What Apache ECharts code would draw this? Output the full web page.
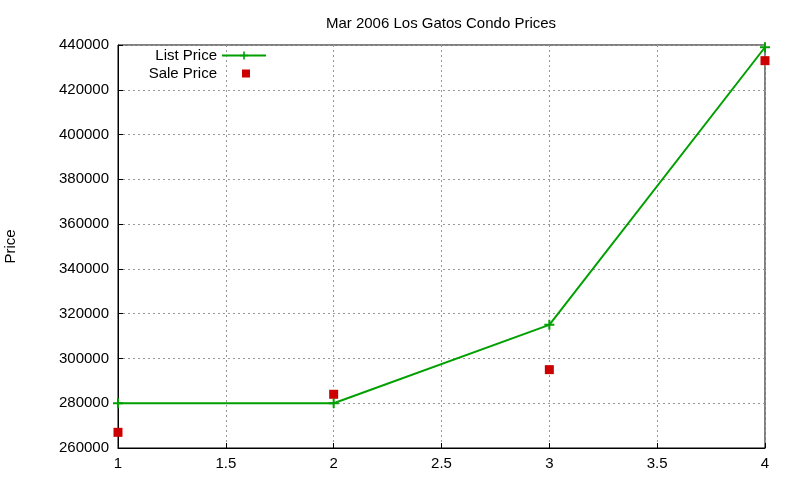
<!DOCTYPE html>
<html><head><meta charset="utf-8">
<script src="https://cdn.jsdelivr.net/npm/echarts@6/dist/echarts.min.js"></script>
<style>html,body{margin:0;padding:0;background:#fff}#c{width:800px;height:480px}</style>
</head><body><div id="c"></div>
<script>
const xValues = [1, 2, 3, 4];
const listPrice = [280000, 280000, 315000, 439000];
const salePrice = [267000, 284000, 295000, 433000];
const titleText = 'Mar 2006 Los Gatos Condo Prices';

const plusPath = 'path://M4,0 H6 V4 H10 V6 H6 V10 H4 V6 H0 V4 H4 Z';
const font = 'Liberation Sans';
const fs = 15;
const chart = echarts.init(document.getElementById('c'), null, {renderer: 'canvas'});
chart.setOption({
  animation: false,
  textStyle: {fontFamily: font},
  title: {text: titleText, left: 436, top: 11, textAlign: 'center',
    textStyle: {fontFamily: font, fontSize: fs, fontWeight: 'normal', color: '#000'}},
  legend: [
    {data: ['List Price'], orient: 'vertical', align: 'right', right: 528, top: 43,
      itemWidth: 44, itemHeight: 10, textStyle: {fontFamily: font, fontSize: fs, color: '#000'}},
    {data: ['Sale Price'], orient: 'vertical', align: 'right', right: 545, top: 61,
      itemWidth: 8, itemHeight: 8,
      textStyle: {fontFamily: font, fontSize: fs, color: '#000', padding: [0, 20, 0, 0]}}
  ],
  grid: {left: 118, right: 35, top: 45, bottom: 32, show: true, borderColor: '#000', borderWidth: 1,
    outerBoundsMode: 'none'},
  xAxis: {type: 'value', min: 1, max: 4, interval: 0.5,
    axisLine: {lineStyle: {color: '#000'}},
    axisTick: {inside: true, length: 5, lineStyle: {color: '#000'}},
    axisLabel: {color: '#000', fontSize: fs, fontFamily: font, margin: 8},
    splitLine: {show: true, lineStyle: {color: '#999', type: [2, 3]}}},
  yAxis: {type: 'value', min: 260000, max: 440000, interval: 20000,
    name: 'Price', nameLocation: 'middle', nameGap: 100, nameRotate: 90,
    nameTextStyle: {color: '#000', fontSize: fs, fontFamily: font},
    axisLine: {show: true, lineStyle: {color: '#000'}},
    axisTick: {show: true, inside: true, length: 5, lineStyle: {color: '#000'}},
    axisLabel: {color: '#000', fontSize: fs, fontFamily: font, margin: 9, formatter: v => String(v)},
    splitLine: {show: true, lineStyle: {color: '#999', type: [2, 3]}}},
  series: [
    {name: 'List Price', type: 'line', data: xValues.map((x, i) => [x, listPrice[i]]),
      symbol: plusPath, symbolSize: 10, showAllSymbol: true,
      lineStyle: {color: '#00a000', width: 2}, itemStyle: {color: '#00a000'}, z: 3},
    {name: 'Sale Price', type: 'scatter', data: xValues.map((x, i) => [x, salePrice[i]]),
      symbol: 'rect', symbolSize: 9, itemStyle: {color: '#cc0000', opacity: 1}, z: 4}
  ]
});
</script></body></html>
